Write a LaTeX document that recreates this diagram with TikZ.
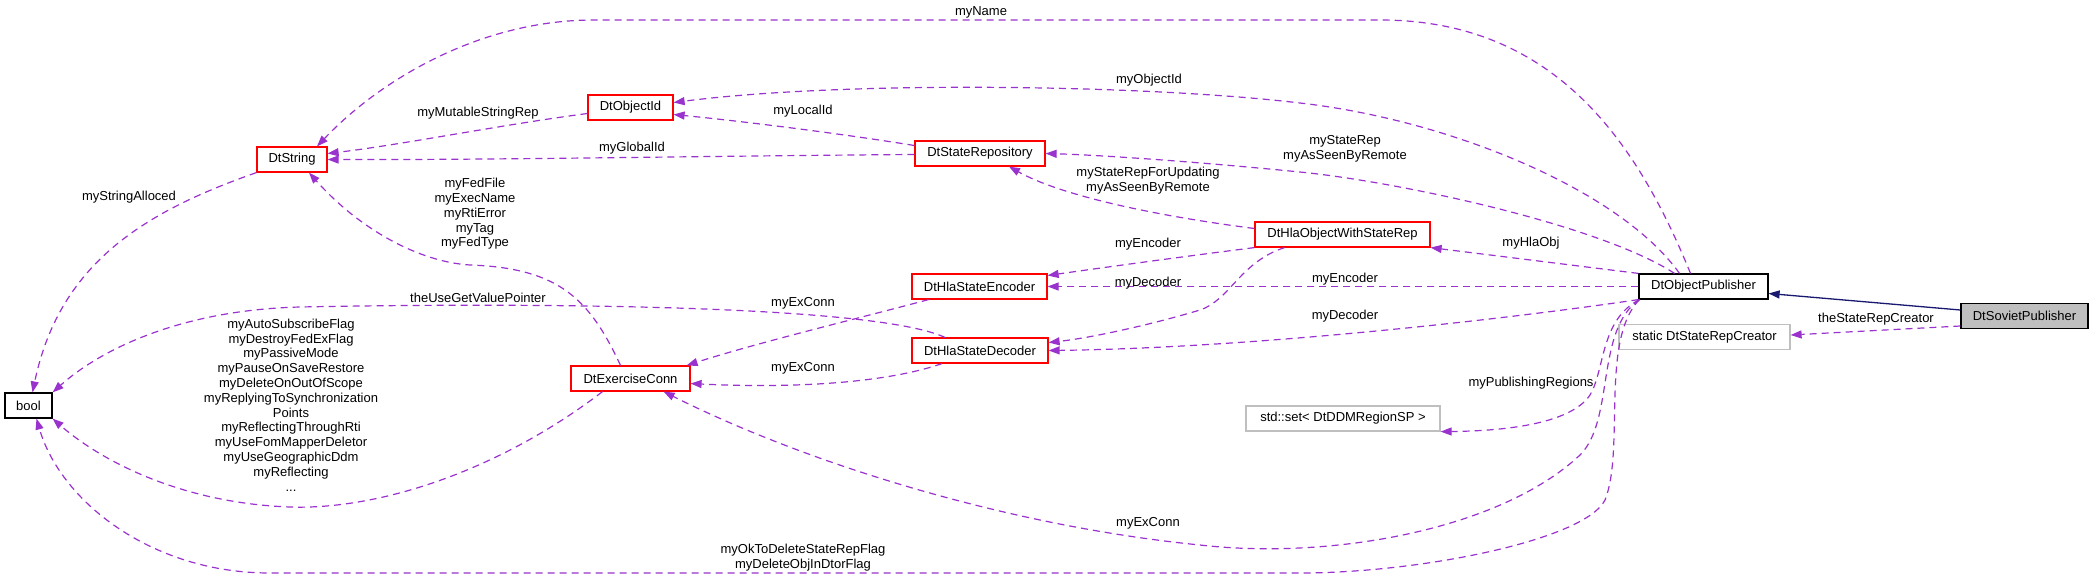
\documentclass[tikz,border=0pt]{standalone}
\usepackage{fontspec}
\newfontfamily\lblfont{Liberation Sans}
\usetikzlibrary{arrows.meta}
\definecolor{edgec}{HTML}{9A32CD}
\definecolor{navyc}{HTML}{191970}
\definecolor{boxred}{HTML}{FF0000}
\definecolor{boxgray}{HTML}{BFBFBF}
\begin{document}
\begin{tikzpicture}[x=1pt,y=-1pt,
  every node/.style={font=\lblfont\fontsize{13}{14.8}\selectfont},
  cls/.style={draw, line width=1.2pt, minimum height=25pt, inner sep=0pt, fill=white},
  redbox/.style={cls, draw=boxred},
  blackbox/.style={cls, draw=black},
  graybox/.style={cls, draw=boxgray},
  sovbox/.style={cls, draw=black, fill=boxgray},
  member/.style={draw=edgec, line width=1.2pt, dash pattern=on 7pt off 5pt,
     -{Triangle[length=11pt,width=8pt,fill=edgec]}},
  inherit/.style={draw=navyc, line width=1.3pt,
     -{Triangle[length=11pt,width=8pt,fill=navyc]}},
  lbl/.style={align=center, inner sep=0pt}
]
\useasboundingbox (0,0) rectangle (2093,579);

% nodes
\node[blackbox, minimum width=47pt] (bool) at (28.5,405.5) {bool};
\node[redbox, minimum width=70pt] (str) at (292,159.5) {DtString};
\node[redbox, minimum width=85pt] (objid) at (630.5,107.5) {DtObjectId};
\node[redbox, minimum width=119pt] (ex) at (630.5,378.5) {DtExerciseConn};
\node[redbox, minimum width=130pt] (rep) at (980,153.5) {DtStateRepository};
\node[redbox, minimum width=135pt] (enc) at (979.5,286.5) {DtHlaStateEncoder};
\node[redbox, minimum width=136pt] (dec) at (980,350.5) {DtHlaStateDecoder};
\node[redbox, minimum width=175pt] (hla) at (1342.5,234.5) {DtHlaObjectWithStateRep};
\node[graybox, minimum width=194pt] (std) at (1343,418.5) {std::set< DtDDMRegionSP >};
\node[blackbox, minimum width=129pt] (pub) at (1703.5,286.5) {DtObjectPublisher};
\node[graybox, minimum width=171pt] (sta) at (1704.5,337) {static DtStateRepCreator};
\node[sovbox, minimum width=127pt] (sov) at (2024.5,316) {DtSovietPublisher};

% edges
\draw[member] ([xshift=-13pt]pub.north) .. controls (1640,150) and (1560,20) .. (1380,20)
   -- (594,20) .. controls (480,20) and (380,80) .. ([xshift=25pt]str.north);
\draw[member] ([xshift=-24pt]pub.north) .. controls (1620,190) and (1450,120) .. (1300,103)
   .. controls (1150,85) and (850,80) .. ([yshift=5pt]objid.east);
\draw[member] ([xshift=-29pt]pub.north) .. controls (1600,225) and (1400,182) .. (1300,172)
   .. controls (1200,162) and (1100,155) .. (rep.east);
\draw[member] (pub.north west) -- (hla.south east);
\draw[member] (pub.west) -- (enc.east);
\draw[member] (pub.south west) .. controls (1500,320) and (1250,348) .. (dec.east);
\draw[inherit] ([yshift=6pt]sov.west) -- ([yshift=-7pt]pub.east);
\draw[member] ([yshift=-10pt]sov.west) -- ([yshift=2pt]sta.east);
\draw[member] ([xshift=1pt]pub.south west) .. controls (1600,320) and (1605,370) .. (1590,395)
   .. controls (1570,425) and (1500,431) .. (std.south east);
\draw[member] ([xshift=1pt]pub.south west) .. controls (1595,330) and (1615,420) .. (1580,455)
   .. controls (1500,530) and (1330,560) .. (1200,545)
   .. controls (1000,525) and (800,460) .. ([xshift=-27pt]ex.south east);
\draw[member] ([xshift=1pt]pub.south west) .. controls (1600,340) and (1625,450) .. (1605,500)
   .. controls (1585,540) and (1420,573) .. (1300,573) -- (270,573)
   .. controls (150,573) and (60,500) .. ([xshift=8pt]bool.south);
\draw[member] ([yshift=-6pt]objid.west) .. controls (500,125) and (400,145) .. ([yshift=6pt]str.east);
\draw[member] ([yshift=-1pt]rep.west) .. controls (700,156) and (500,160) .. (str.east);
\draw[member] ([yshift=8pt]rep.west) .. controls (850,135) and (750,122) .. ([yshift=-7pt]objid.east);
\draw[member] ([yshift=6pt]hla.west) .. controls (1150,215) and (1060,195) .. ([xshift=29pt]rep.south);
\draw[member] (hla.south west) .. controls (1180,257) and (1100,268) .. ([yshift=11pt]enc.east);
\draw[member] ([xshift=-58pt]hla.south) .. controls (1240,262) and (1230,300) .. (1200,310)
   .. controls (1150,325) and (1090,338) .. ([yshift=8pt]dec.east);
\draw[member] ([xshift=-51pt]enc.south) .. controls (860,318) and (760,342) .. ([xshift=-4pt]ex.north east);
\draw[member] ([xshift=-38pt]dec.south) .. controls (880,385) and (780,388) .. ([yshift=-5pt]ex.east);
\draw[member] ([xshift=-35pt]dec.north) .. controls (870,303) and (500,303) .. (300,307)
   .. controls (180,310) and (100,350) .. (bool.north east);
\draw[member] ([xshift=-10pt]ex.north) .. controls (590,300) and (560,268) .. (470,265)
   .. controls (420,262) and (360,230) .. ([xshift=17pt]str.south);
\draw[member] (str.south west) .. controls (150,210) and (60,260) .. ([xshift=4pt]bool.north);
\draw[member] ([xshift=-28pt]ex.south) .. controls (500,470) and (380,510) .. (290,507)
   .. controls (180,503) and (100,460) .. (bool.south east);

% labels
\node[lbl] (lName) at (981,12) {myName};
\node[lbl] (lObjId) at (1149,80) {myObjectId};
\node[lbl] (lStateRep) at (1345,148.5) {myStateRep\\myAsSeenByRemote};
\node[lbl] (lHla) at (1531,243) {myHlaObj};
\node[lbl] (lEnc1) at (1345,279) {myEncoder};
\node[lbl] (lDec1) at (1345,316) {myDecoder};
\node[lbl] (lCreator) at (1876,319) {theStateRepCreator};
\node[lbl] (lPub) at (1531,383) {myPublishingRegions};
\node[lbl] (lEx3) at (1148,523) {myExConn};
\node[lbl] (lOk) at (803,558) {myOkToDeleteStateRepFlag\\myDeleteObjInDtorFlag};
\node[lbl] (lMut) at (478,113) {myMutableStringRep};
\node[lbl] (lGlob) at (632,148) {myGlobalId};
\node[lbl] (lLoc) at (803,111) {myLocalId};
\node[lbl] (lUpd) at (1148,180.5) {myStateRepForUpdating\\myAsSeenByRemote};
\node[lbl] (lEnc2) at (1148,244) {myEncoder};
\node[lbl] (lDec2) at (1148,283) {myDecoder};
\node[lbl] (lEx1) at (803,303) {myExConn};
\node[lbl] (lEx2) at (803,368) {myExConn};
\node[lbl] (lUse) at (478,298) {theUseGetValuePointer};
\node[lbl] (lFed) at (475,214) {myFedFile\\myExecName\\myRtiError\\myTag\\myFedType};
\node[lbl] (lAlloc) at (129,197) {myStringAlloced};
\node[lbl] (lFlags) at (291,405) {myAutoSubscribeFlag\\myDestroyFedExFlag\\myPassiveMode\\myPauseOnSaveRestore\\myDeleteOnOutOfScope\\myReplyingToSynchronization\\Points\\myReflectingThroughRti\\myUseFomMapperDeletor\\myUseGeographicDdm\\myReflecting\\...};
\end{tikzpicture}
\end{document}
